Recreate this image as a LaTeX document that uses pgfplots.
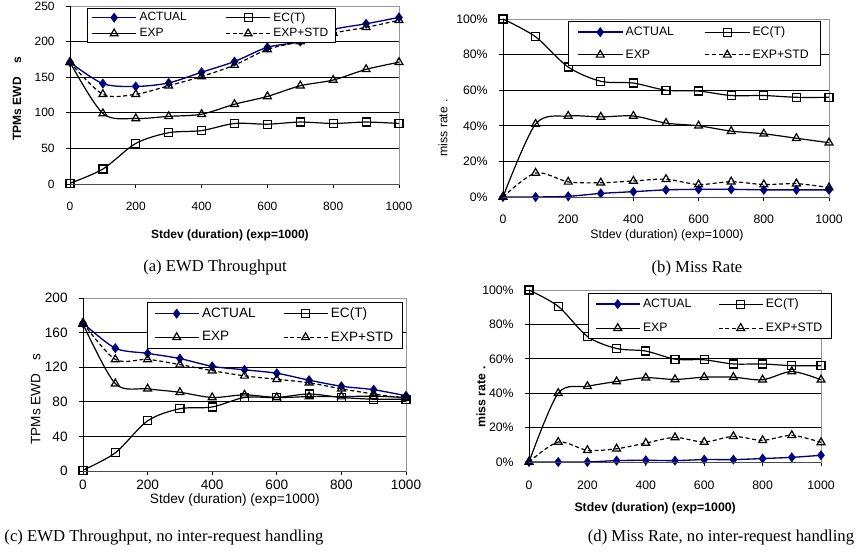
\documentclass[border=0pt]{standalone}
\usepackage{pgfplots}
\pgfplotsset{compat=1.18}
\usepackage{fontspec}
\setmainfont{Liberation Sans}
\newfontfamily\capfont{Liberation Serif}
\definecolor{navy}{RGB}{0,0,128}
\definecolor{framegray}{RGB}{150,150,150}

\pgfplotsset{
  panel/.style={
    scale only axis,
    anchor=south west,
    xmin=0, xmax=1000,
    xtick={0,200,...,1000},
    xticklabels={0,200,400,600,800,1000},
    tick align=outside,
    xtick pos=bottom, ytick pos=left,
    major tick length=3pt,
    tick style={black, line width=0.6pt},
    axis line style={framegray, line width=0.6pt},
    ymajorgrids,
    major grid style={black, line width=0.5pt},
    legend columns=2,
    legend cell align=left,
    legend style={draw=black, fill=white, line width=0.6pt, anchor=north west},
    legend image code/.code={\draw[mark repeat=2,mark phase=2,##1] plot coordinates {(0pt,0pt) (16.5pt,0pt) (33pt,0pt)};},
    clip=false,
    after end axis/.code={\draw[black, line width=0.6pt] (rel axis cs:0,0) -- (rel axis cs:0,1);
      \draw[black!70, line width=0.6pt] (rel axis cs:0,0) -- (rel axis cs:1,0);},
  },
  fs/.style={ticklabel style={font=\fontsize{#1}{#1}\selectfont},
    label style={font=\fontsize{#1}{#1}\selectfont},
    legend style={font=\fontsize{#1}{#1}\selectfont}},
  % column gap, row gap, inner xsep, inner ysep
  lsep/.style n args={4}{legend style={row sep=#2, inner xsep=#3, inner ysep=#4,
    /tikz/column 2/.append style={column sep=#1}}},
  actual/.style={color=navy, line width=1pt, smooth, mark=diamond*, mark size=3pt, mark options={solid, fill=navy, draw=navy}},
  ect/.style={color=black, line width=0.9pt, smooth, mark=square, mark size=3pt, mark options={solid, fill=white}},
  expp/.style={color=black, line width=0.9pt, smooth, mark=triangle, mark size=3.4pt, mark options={solid, fill=white}},
  expstd/.style={color=black, line width=0.9pt, smooth, dash pattern=on 3pt off 2pt, mark=triangle, mark size=3.4pt, mark options={solid, fill=white}},
}

\begin{document}
\begin{tikzpicture}
\useasboundingbox (0,0) rectangle (645.75pt,415.5pt);

% (a) EWD Throughput
\begin{axis}[panel, fs=9, lsep={27pt}{0pt}{3pt}{1pt}, at={(52.5pt,277.5pt)}, width=246.75pt, height=133.5pt,
  ymin=0, ymax=250, ytick={0,50,...,250}, yticklabels={0,50,100,150,200,250},
  xlabel={\bfseries Stdev (duration) (exp=1000)},
  ylabel={\bfseries TPMs EWD\hspace{10pt}s},
  xlabel style={at={(axis description cs:0.486,-0.287)}, anchor=center},
  ylabel style={at={(axis description cs:-0.161,0.478)}, anchor=center},
  xticklabel style={yshift=-7pt}, yticklabel style={xshift=-5pt},
  legend style={at={(0.052,0.989)}}]
\addplot[actual] coordinates {(0,171)(100,141)(200,137)(300,142)(400,157)(500,172)(600,192)(700,200)(800,217)(900,225)(1000,234)};
\addplot[ect] coordinates {(0,1)(100,21)(200,57)(300,72)(400,75)(500,85)(600,84)(700,87)(800,85)(900,87)(1000,85)};
\addplot[expp] coordinates {(0,171)(100,99)(200,92)(300,95)(400,98)(500,112)(600,123)(700,138)(800,146)(900,161)(1000,171)};
\addplot[expstd] coordinates {(0,171)(100,126)(200,126)(300,138)(400,151)(500,167)(600,189)(700,200)(800,212)(900,220)(1000,230)};
\legend{ACTUAL, EC(T), EXP, EXP+STD}
\end{axis}

% (b) Miss Rate
\begin{axis}[panel, fs=9.2, lsep={21pt}{5pt}{7pt}{2pt}, at={(377.25pt,267.75pt)}, width=244.5pt, height=133.5pt,
  ymin=0, ymax=100, ytick={0,20,...,100}, yticklabels={0\%,20\%,40\%,60\%,80\%,100\%},
  xlabel={Stdev (duration) (exp=1000)},
  ylabel={miss rate\hspace{3pt}.},
  xlabel style={at={(axis description cs:0.503,-0.213)}, anchor=center},
  ylabel style={at={(axis description cs:-0.184,0.388)}, anchor=center},
  xticklabel style={yshift=-7pt}, yticklabel style={xshift=-5pt},
  legend style={at={(0.199,0.989)}}]
\addplot[actual] coordinates {(0,0)(100,0)(200,0.4)(300,2)(400,3)(500,4)(600,4.3)(700,4.3)(800,4)(900,4)(1000,4)};
\addplot[ect] coordinates {(0,100)(100,90)(200,73)(300,65)(400,64)(500,60)(600,59.5)(700,57)(800,57)(900,56)(1000,56)};
\addplot[expp] coordinates {(0,0)(100,41)(200,45.5)(300,45)(400,45.5)(500,41.5)(600,40)(700,37)(800,35.5)(900,33)(1000,30.5)};
\addplot[expstd] coordinates {(0,0)(100,13.5)(200,8.5)(300,8)(400,9)(500,10)(600,7)(700,8.6)(800,7)(900,7.5)(1000,5.3)};
\legend{ACTUAL, EC(T), EXP, EXP+STD}
\end{axis}

% (c) EWD Throughput, no inter-request handling
\begin{axis}[panel, fs=10.2, lsep={18.5pt}{5pt}{5pt}{2pt}, at={(62.25pt,62.25pt)}, width=242.25pt, height=129.75pt,
  ymin=0, ymax=200, ytick={0,40,...,200}, yticklabels={0,40,80,120,160,200},
  xlabel={Stdev (duration) (exp=1000)},
  ylabel={TPMs EWD\hspace{10pt}s},
  xlabel style={at={(axis description cs:0.47,-0.168)}, anchor=center},
  ylabel style={at={(axis description cs:-0.146,0.416)}, anchor=center},
  yticklabel style={xshift=-5pt},
  legend style={at={(0.198,0.977)}}]
\addplot[actual] coordinates {(0,171)(100,142)(200,136)(300,130)(400,121)(500,117)(600,113)(700,105)(800,98)(900,94)(1000,87)};
\addplot[ect] coordinates {(0,1)(100,21)(200,58)(300,72)(400,74)(500,85)(600,85)(700,89)(800,85)(900,83)(1000,83)};
\addplot[expp] coordinates {(0,170)(100,101)(200,95)(300,91)(400,85)(500,88)(600,85)(700,86)(800,86)(900,86.5)(1000,85)};
\addplot[expstd] coordinates {(0,171)(100,129)(200,129)(300,123)(400,116)(500,110)(600,106)(700,102)(800,95)(900,89)(1000,84)};
\legend{ACTUAL, EC(T), EXP, EXP+STD}
\end{axis}

% (d) Miss Rate, no inter-request handling
\begin{axis}[panel, fs=9.2, lsep={18pt}{6pt}{5pt}{2pt}, at={(396.75pt,69pt)}, width=219pt, height=129pt,
  ymin=0, ymax=100, ytick={0,20,...,100}, yticklabels={0\%,20\%,40\%,60\%,80\%,100\%},
  xlabel={\bfseries Stdev (duration) (exp=1000)},
  ylabel={\bfseries miss rate\hspace{3pt}.},
  xlabel style={at={(axis description cs:0.432,-0.267)}, anchor=center},
  ylabel style={at={(axis description cs:-0.164,0.378)}, anchor=center},
  xticklabel style={yshift=-8pt}, yticklabel style={xshift=-5pt},
  legend style={at={(0.202,0.983)}}]
\addplot[actual] coordinates {(0,0)(100,0)(200,0)(300,0.8)(400,1)(500,0.8)(600,1.4)(700,1.4)(800,2)(900,2.7)(1000,3.9)};
\addplot[ect] coordinates {(0,100)(100,90.5)(200,73)(300,66)(400,64.5)(500,59.8)(600,59.4)(700,57)(800,57)(900,56)(1000,56)};
\addplot[expp] coordinates {(0,0)(100,40)(200,44)(300,46.8)(400,49)(500,48)(600,49.3)(700,49.3)(800,47.8)(900,52.6)(1000,47.8)};
\addplot[expstd] coordinates {(0,0)(100,11.6)(200,6.8)(300,7.7)(400,11)(500,14.3)(600,11.6)(700,14.9)(800,12.6)(900,15.5)(1000,11.4)};
\legend{ACTUAL, EC(T), EXP, EXP+STD}
\end{axis}

\node[font=\capfont\fontsize{12.5}{14}\selectfont] at (161.25pt,214.5pt) {(a) EWD Throughput};
\node[font=\capfont\fontsize{12.5}{14}\selectfont] at (522.75pt,214.5pt) {(b) Miss Rate};
\node[font=\capfont\fontsize{12.5}{14}\selectfont] at (123pt,12pt) {(c) EWD Throughput, no inter-request handling};
\node[font=\capfont\fontsize{12.5}{14}\selectfont] at (540.75pt,12pt) {(d) Miss Rate, no inter-request handling};
\end{tikzpicture}
\end{document}
